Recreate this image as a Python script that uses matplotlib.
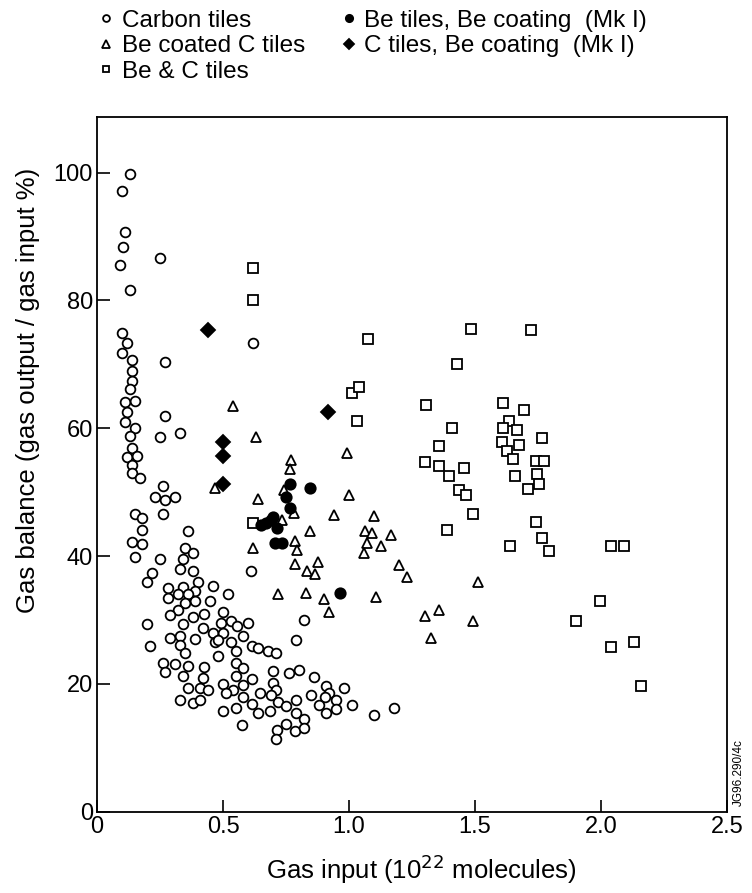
import numpy as np
import matplotlib
matplotlib.use("Agg")
from matplotlib import pyplot as plt

plt.rcParams['font.family'] = ['Liberation Sans', 'DejaVu Sans']

# Carbon tiles (open circles)
carbon_x = [0.13, 0.10, 0.11, 0.105, 0.25, 0.09, 0.13, 0.10, 0.12, 0.10, 0.14, 0.27, 0.14, 0.14, 0.13,
            0.11, 0.15, 0.12, 0.27, 0.11, 0.15, 0.13, 0.25, 0.33, 0.14, 0.12, 0.16, 0.14, 0.14, 0.17,
            0.26, 0.23, 0.27, 0.31, 0.26, 0.15, 0.18, 0.18, 0.36, 0.14, 0.18, 0.35, 0.38, 0.15, 0.25,
            0.34, 0.33, 0.38, 0.22, 0.61, 0.62,
            0.20, 0.40, 0.28, 0.34, 0.39, 0.28, 0.32, 0.36, 0.39, 0.35, 0.32, 0.29, 0.38, 0.20, 0.34,
            0.29, 0.33, 0.39, 0.33, 0.21, 0.35, 0.26, 0.27, 0.31, 0.36, 0.34, 0.36, 0.33, 0.38,
            0.82, 0.79, 0.46, 0.52, 0.45, 0.50, 0.425, 0.49, 0.53, 0.60, 0.555, 0.42, 0.46, 0.50, 0.58,
            0.47, 0.48, 0.53, 0.615, 0.64, 0.68, 0.71, 0.55, 0.48, 0.425, 0.55, 0.58, 0.70, 0.76, 0.80,
            0.86, 0.42, 0.55, 0.615, 0.70, 0.50, 0.41, 0.44, 0.54, 0.58, 0.71, 0.91, 0.92, 0.98, 0.51,
            0.645, 0.69, 0.85, 0.58, 0.905, 0.95, 0.41, 0.72, 0.79, 0.615, 0.88, 0.75, 0.55, 1.01, 1.18,
            0.50, 0.64, 0.685, 0.79, 0.91, 0.95, 1.10, 0.82, 0.575, 0.75, 0.715, 0.785, 0.82, 0.71]
carbon_y = [99.8, 97.1, 90.7, 88.4, 86.6, 85.5, 81.7, 74.9, 73.3, 71.7, 70.6, 70.3, 68.9, 67.4, 66.2,
            64.1, 64.2, 62.5, 61.9, 60.9, 60.0, 58.8, 58.6, 59.3, 56.9, 55.5, 55.7, 54.3, 53.0, 52.2,
            51.0, 49.3, 48.7, 49.3, 46.6, 46.6, 45.9, 44.1, 44.0, 42.2, 41.9, 41.2, 40.5, 39.8, 39.6,
            39.6, 38.0, 37.6, 37.4, 37.7, 73.4,
            36.0, 36.0, 35.0, 35.1, 34.6, 33.4, 34.0, 34.0, 33.0, 32.7, 31.6, 30.8, 30.5, 29.3, 29.4,
            27.2, 27.5, 27.1, 26.1, 26.0, 24.9, 23.2, 21.8, 23.1, 22.8, 21.2, 19.3, 17.5, 17.0,
            30.0, 26.8, 35.3, 34.0, 32.9, 31.2, 31.0, 29.6, 29.8, 29.6, 29.0, 28.7, 27.9, 27.9, 27.5,
            26.5, 26.9, 26.6, 26.0, 25.6, 25.1, 24.9, 25.1, 24.4, 22.7, 23.2, 22.5, 22.0, 21.7, 22.1,
            21.1, 20.9, 21.3, 20.7, 20.2, 20.0, 19.4, 19.1, 19.1, 19.9, 19.1, 19.6, 18.5, 19.3, 18.6,
            18.6, 18.3, 18.3, 18.0, 17.9, 17.5, 17.5, 17.1, 17.5, 16.9, 16.7, 16.6, 16.2, 16.7, 16.2,
            15.7, 15.4, 15.7, 15.5, 15.5, 16.0, 15.2, 14.5, 13.5, 13.8, 12.8, 12.7, 13.1, 11.4]

# Be coated C tiles (open triangles)
becoated_x = [0.54, 0.63, 0.47, 0.99, 0.77, 0.765, 0.74, 1.00, 0.64, 0.78, 0.94, 0.735, 0.845, 0.785,
              0.62, 0.795, 0.785, 0.835, 0.875, 0.865, 1.20, 0.72, 0.83, 0.90, 1.105, 0.92, 1.10,
              1.065, 1.09, 1.165, 1.07, 1.125, 1.06, 1.23, 1.51, 1.30, 1.355, 1.49, 1.325]
becoated_y = [63.5, 58.6, 50.6, 56.1, 55.1, 53.6, 50.4, 49.6, 48.9, 46.8, 46.5, 45.7, 44.0, 42.4,
              41.2, 40.9, 38.7, 37.7, 39.1, 37.2, 38.6, 34.0, 34.3, 33.3, 33.6, 31.3, 46.3,
              44.0, 43.6, 43.3, 42.0, 41.5, 40.5, 36.7, 36.0, 30.7, 31.6, 29.8, 27.2]

# Be & C tiles (open squares)
bec_x = [0.62, 0.62, 0.62, 1.075, 1.01, 1.04, 1.03,
         1.305, 1.41, 1.355, 1.30, 1.355, 1.455, 1.395, 1.435, 1.465, 1.49, 1.39, 1.485, 1.43,
         1.61, 1.695, 1.635, 1.61, 1.665, 1.605, 1.675, 1.625, 1.65, 1.66, 1.71, 1.765, 1.74,
         1.775, 1.745, 1.755, 1.74, 1.765, 1.64, 1.795, 1.72,
         2.04, 2.09, 1.995, 1.90, 2.13, 2.04, 2.16]
bec_y = [85.1, 80.1, 45.1, 73.9, 65.5, 66.4, 61.2,
         63.7, 60.0, 57.2, 54.7, 54.1, 53.8, 52.6, 50.3, 49.5, 46.6, 44.1, 75.6, 70.1,
         64.0, 62.8, 61.1, 60.1, 59.8, 57.8, 57.4, 56.4, 55.2, 52.6, 50.5, 58.5, 54.9,
         54.9, 52.9, 51.2, 45.3, 42.8, 41.6, 40.8, 75.3,
         41.6, 41.5, 33.0, 29.8, 26.5, 25.8, 19.6]

# Be tiles, Be coating (Mk I) (filled circles)
betiles_x = [0.765, 0.845, 0.75, 0.765, 0.65, 0.67, 0.70, 0.69, 0.715, 0.705, 0.735, 0.965]
betiles_y = [51.3, 50.7, 49.3, 47.6, 44.8, 45.1, 46.1, 45.7, 44.4, 42.0, 42.0, 34.2]

# C tiles, Be coating (Mk I) (filled diamonds)
ctiles_x = [0.44, 0.50, 0.50, 0.50, 0.915]
ctiles_y = [75.4, 57.8, 55.7, 51.3, 62.5]

xticks = [0, 0.5, 1.0, 1.5, 2.0, 2.5]
xtick_labels = ['0', '0.5', '1.0', '1.5', '2.0', '2.5']
yticks = [0, 20, 40, 60, 80, 100]

fig = plt.figure(figsize=(7.52, 8.93), dpi=100)
ax = fig.add_axes([0.129, 0.091, 0.838, 0.778])

mk = dict(linestyle='none', markeredgecolor='black', markeredgewidth=1.3)
h1, = ax.plot(carbon_x, carbon_y, marker='o', markersize=7, markerfacecolor='white',
              label='Carbon tiles', **mk)
h2, = ax.plot(becoated_x, becoated_y, marker='^', markersize=7.5, markerfacecolor='white',
              label='Be coated C tiles', **mk)
h3, = ax.plot(bec_x, bec_y, marker='s', markersize=6.5, markerfacecolor='white',
              label='Be & C tiles', **mk)
h4, = ax.plot(betiles_x, betiles_y, marker='o', markersize=7.5, markerfacecolor='black',
              label='Be tiles, Be coating  (Mk I)', **mk)
h5, = ax.plot(ctiles_x, ctiles_y, marker='D', markersize=7, markerfacecolor='black',
              label='C tiles, Be coating  (Mk I)', **mk)

ax.set_xlim(0, 2.5)
ax.set_ylim(0, 108.7)
ax.set_xticks(xticks)
ax.set_xticklabels(xtick_labels)
ax.set_yticks(yticks)
ax.tick_params(direction='in', length=9, width=1.2, labelsize=17, pad=3)
for s in ax.spines.values():
    s.set_linewidth(1.3)

ax.set_xlabel('Gas input (10$^{22}$ molecules)', fontsize=18.5)
ax.set_ylabel('Gas balance (gas output / gas input %)', fontsize=18.5)
ax.xaxis.set_label_coords(0.514, -0.058)
ax.yaxis.set_label_coords(-0.09, 0.607)

fig.legend(handles=[h1, h2, h3, h4, h5], loc='upper left', bbox_to_anchor=(0.118, 1.0),
           ncol=2, frameon=False, fontsize=17.5, markerscale=0.7, handlelength=0.6,
           handletextpad=0.35, labelspacing=0.14, columnspacing=1.5, borderaxespad=0.0)

fig.text(0.982, 0.135, 'JG96.290/4c', rotation=90, fontsize=8.5, ha='center', va='center')

fig.savefig('out.png', dpi=100)
